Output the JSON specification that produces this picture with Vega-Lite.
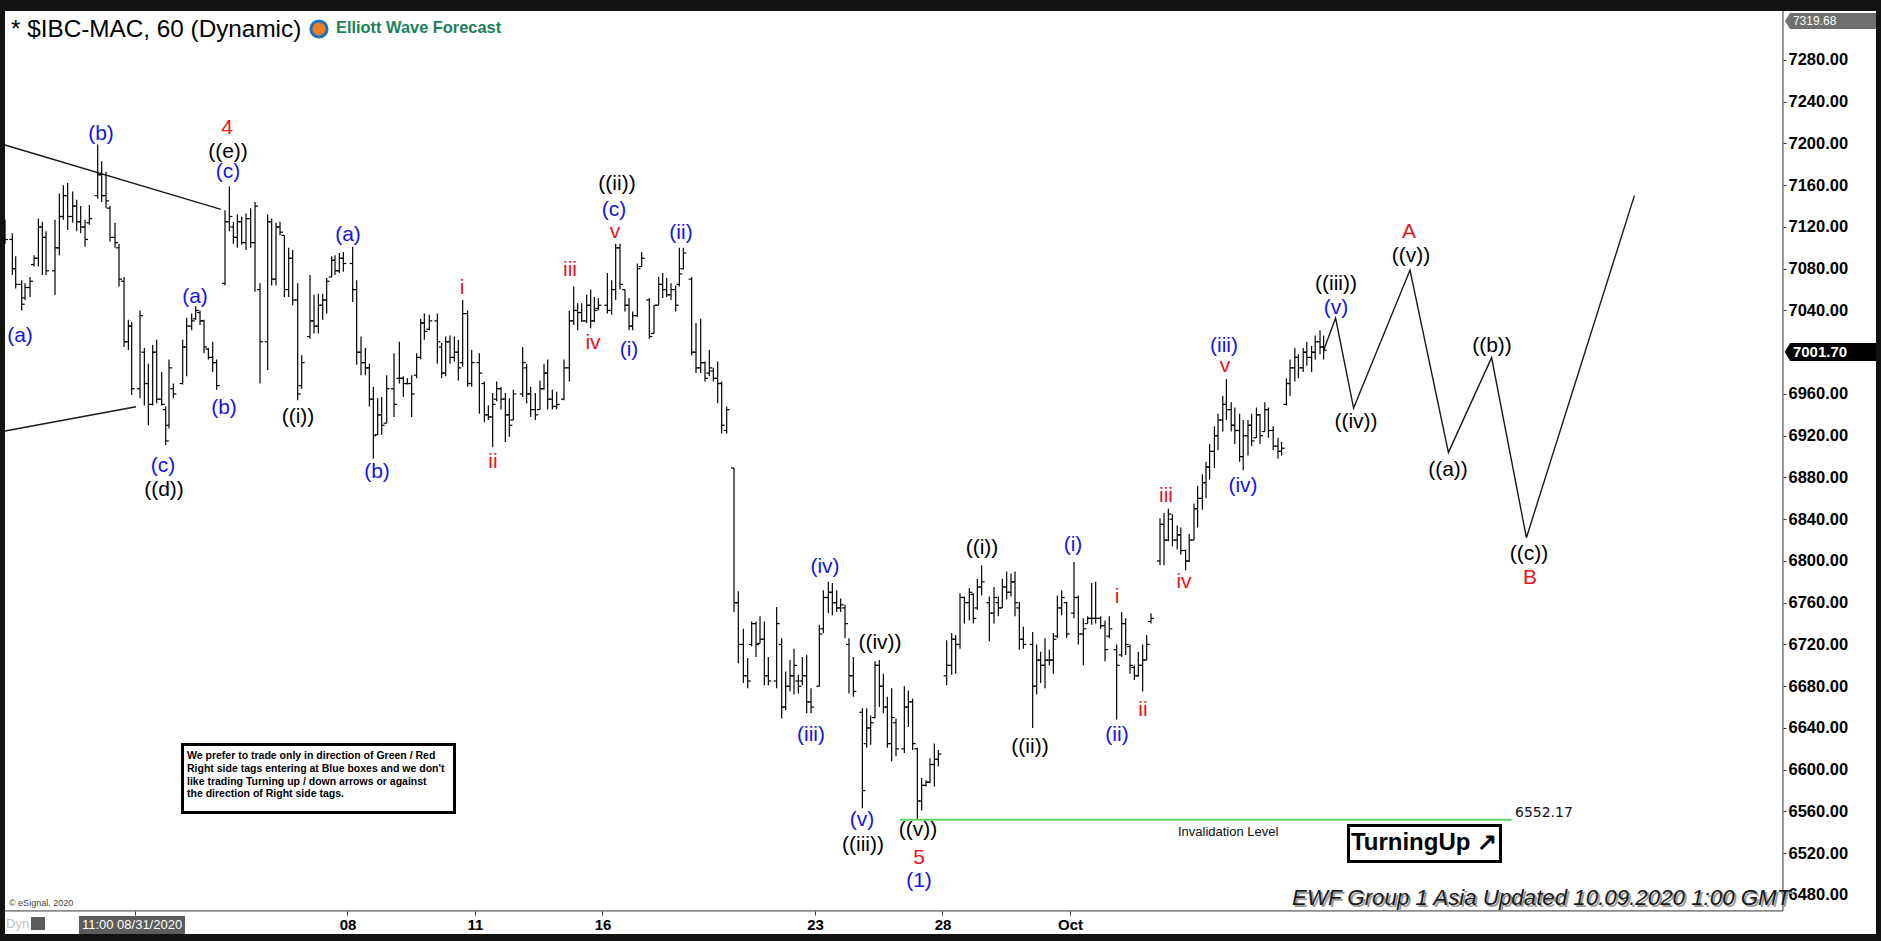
{
"$schema":"https://vega.github.io/schema/vega-lite/v6.json",
"width":1871,"height":923,
"autosize":{"type":"none"},
"padding":{"left":5,"top":11,"right":5,"bottom":7},
"background":"#121212",
"config":{"view":{"fill":"#ffffff","stroke":null},"text":{"font":"Liberation Sans"}},
"datasets":{
"ax":[{"t":-3.06,"t2":38.776,"p":6464.7,"p2":6464.7},{"t":38.776,"t2":38.776,"p":7326.9,"p2":6464.7}],
"lines":[
{"g":"u","i":0,"t":-3.059,"p":7198.5},{"g":"u","i":1,"t":2.024,"p":7136.9},
{"g":"l","i":0,"t":-3.059,"p":6924.5},{"g":"l","i":1,"t":0.024,"p":6947.8},
{"g":"proj","i":0,"t":27.967,"p":7001.7},{"g":"proj","i":1,"t":28.249,"p":7032.7},{"g":"proj","i":2,"t":28.673,"p":6946.5},{"g":"proj","i":3,"t":30.0,"p":7078.7},{"g":"proj","i":4,"t":30.904,"p":6904.0},{"g":"proj","i":5,"t":31.92,"p":6994.8},{"g":"proj","i":6,"t":32.739,"p":6822.3},{"g":"proj","i":7,"t":35.28,"p":7150.0}
],
"bars":[
{"t":-3.058,"h":7127,"l":7104,"o":7124,"c":7108},
{"t":-2.886,"h":7114,"l":7074,"o":7108,"c":7080},
{"t":-2.807,"h":7092,"l":7061,"o":7080,"c":7065},
{"t":-2.666,"h":7069,"l":7040,"o":7065,"c":7046},
{"t":-2.588,"h":7066,"l":7050,"o":7052,"c":7062},
{"t":-2.47,"h":7072,"l":7053,"o":7062,"c":7068},
{"t":-2.376,"h":7093,"l":7082,"o":7084,"c":7090},
{"t":-2.274,"h":7128,"l":7082,"o":7090,"c":7120},
{"t":-2.18,"h":7125,"l":7074,"o":7120,"c":7110},
{"t":-2.094,"h":7116,"l":7074,"o":7110,"c":7078},
{"t":-1.882,"h":7127,"l":7055,"o":7078,"c":7100},
{"t":-1.78,"h":7152,"l":7093,"o":7100,"c":7130},
{"t":-1.686,"h":7160,"l":7127,"o":7130,"c":7150},
{"t":-1.584,"h":7162,"l":7117,"o":7150,"c":7130},
{"t":-1.466,"h":7154,"l":7124,"o":7130,"c":7140},
{"t":-1.372,"h":7146,"l":7116,"o":7140,"c":7125},
{"t":-1.278,"h":7140,"l":7114,"o":7125,"c":7120},
{"t":-1.176,"h":7127,"l":7101,"o":7120,"c":7108},
{"t":-1.074,"h":7141,"l":7122,"o":7124,"c":7128},
{"t":-0.878,"h":7199,"l":7147,"o":7150,"c":7170},
{"t":-0.784,"h":7183,"l":7144,"o":7170,"c":7150},
{"t":-0.682,"h":7173,"l":7138,"o":7150,"c":7145},
{"t":-0.588,"h":7140,"l":7106,"o":7138,"c":7110},
{"t":-0.47,"h":7124,"l":7100,"o":7110,"c":7105},
{"t":-0.376,"h":7104,"l":7063,"o":7100,"c":7070},
{"t":-0.258,"h":7072,"l":7005,"o":7068,"c":7010},
{"t":-0.156,"h":7031,"l":7002,"o":7010,"c":7025},
{"t":-0.078,"h":7029,"l":6959,"o":7025,"c":6965},
{"t":0.118,"h":7040,"l":6956,"o":6965,"c":7035},
{"t":0.22,"h":7004,"l":6949,"o":7000,"c":6970},
{"t":0.314,"h":6989,"l":6930,"o":6970,"c":6950},
{"t":0.416,"h":7007,"l":6949,"o":6950,"c":7000},
{"t":0.51,"h":7012,"l":6951,"o":7000,"c":6955},
{"t":0.628,"h":6981,"l":6949,"o":6955,"c":6950},
{"t":0.722,"h":6948,"l":6911,"o":6945,"c":6915},
{"t":0.8,"h":6993,"l":6927,"o":6930,"c":6985},
{"t":0.902,"h":6970,"l":6956,"o":6965,"c":6960},
{"t":1.122,"h":7012,"l":6969,"o":6970,"c":7005},
{"t":1.216,"h":7033,"l":6977,"o":7005,"c":7025},
{"t":1.334,"h":7037,"l":7021,"o":7025,"c":7030},
{"t":1.428,"h":7044,"l":7031,"o":7032,"c":7040},
{"t":1.53,"h":7040,"l":7026,"o":7038,"c":7030},
{"t":1.624,"h":7031,"l":6999,"o":7030,"c":7005},
{"t":1.726,"h":7004,"l":6993,"o":7003,"c":6995},
{"t":1.828,"h":7010,"l":6981,"o":6995,"c":6990},
{"t":1.922,"h":6993,"l":6964,"o":6990,"c":6968},
{"t":2.118,"h":7136,"l":7064,"o":7066,"c":7125},
{"t":2.22,"h":7159,"l":7116,"o":7125,"c":7130},
{"t":2.314,"h":7125,"l":7104,"o":7120,"c":7110},
{"t":2.408,"h":7132,"l":7100,"o":7110,"c":7125},
{"t":2.51,"h":7130,"l":7103,"o":7125,"c":7105},
{"t":2.612,"h":7133,"l":7098,"o":7105,"c":7128},
{"t":2.722,"h":7138,"l":7100,"o":7128,"c":7105},
{"t":2.824,"h":7144,"l":7058,"o":7105,"c":7140},
{"t":2.942,"h":7066,"l":6970,"o":7060,"c":7010},
{"t":3.122,"h":7132,"l":6983,"o":7010,"c":7125},
{"t":3.216,"h":7128,"l":7064,"o":7125,"c":7070},
{"t":3.318,"h":7124,"l":7064,"o":7070,"c":7120},
{"t":3.412,"h":7125,"l":7112,"o":7120,"c":7115},
{"t":3.514,"h":7112,"l":7053,"o":7112,"c":7060},
{"t":3.616,"h":7100,"l":7053,"o":7060,"c":7090},
{"t":3.71,"h":7098,"l":7045,"o":7090,"c":7050},
{"t":3.828,"h":7066,"l":6954,"o":7050,"c":6960},
{"t":3.922,"h":6997,"l":6965,"o":6968,"c":6990},
{"t":4.118,"h":7074,"l":7013,"o":7015,"c":7030},
{"t":4.212,"h":7055,"l":7018,"o":7030,"c":7025},
{"t":4.314,"h":7056,"l":7018,"o":7025,"c":7045},
{"t":4.416,"h":7056,"l":7031,"o":7045,"c":7050},
{"t":4.51,"h":7071,"l":7037,"o":7050,"c":7068},
{"t":4.628,"h":7092,"l":7072,"o":7072,"c":7088},
{"t":4.706,"h":7093,"l":7074,"o":7088,"c":7078},
{"t":4.808,"h":7095,"l":7076,"o":7078,"c":7090},
{"t":4.902,"h":7096,"l":7077,"o":7090,"c":7085},
{"t":5.122,"h":7101,"l":7048,"o":7085,"c":7060},
{"t":5.216,"h":7069,"l":6988,"o":7060,"c":7000},
{"t":5.318,"h":7015,"l":6978,"o":7000,"c":6990},
{"t":5.42,"h":7004,"l":6978,"o":6990,"c":6985},
{"t":5.514,"h":6989,"l":6948,"o":6985,"c":6955},
{"t":5.608,"h":6967,"l":6898,"o":6955,"c":6920},
{"t":5.71,"h":6956,"l":6921,"o":6921,"c":6940},
{"t":5.804,"h":6957,"l":6921,"o":6940,"c":6930},
{"t":5.922,"h":6978,"l":6932,"o":6932,"c":6965},
{"t":6.094,"h":6999,"l":6938,"o":6965,"c":6950},
{"t":6.22,"h":7010,"l":6970,"o":6975,"c":6975},
{"t":6.314,"h":6977,"l":6957,"o":6975,"c":6970},
{"t":6.408,"h":6975,"l":6969,"o":6970,"c":6970},
{"t":6.51,"h":6978,"l":6938,"o":6970,"c":6960},
{"t":6.627,"h":6999,"l":6975,"o":6978,"c":6995},
{"t":6.722,"h":7032,"l":6993,"o":6995,"c":7028},
{"t":6.808,"h":7037,"l":7012,"o":7028,"c":7020},
{"t":6.925,"h":7036,"l":7021,"o":7022,"c":7030},
{"t":7.114,"h":7037,"l":6989,"o":7030,"c":7010},
{"t":7.216,"h":7009,"l":6975,"o":7005,"c":6980},
{"t":7.31,"h":7015,"l":6977,"o":6980,"c":7010},
{"t":7.412,"h":7016,"l":6989,"o":7010,"c":6995},
{"t":7.514,"h":7015,"l":6991,"o":6995,"c":7000},
{"t":7.608,"h":7012,"l":6973,"o":7000,"c":6985},
{"t":7.71,"h":7050,"l":6986,"o":6990,"c":7037},
{"t":7.827,"h":7040,"l":6967,"o":7037,"c":6970},
{"t":7.922,"h":7002,"l":6967,"o":6970,"c":6990},
{"t":8.102,"h":6999,"l":6941,"o":6990,"c":6980},
{"t":8.22,"h":6972,"l":6933,"o":6970,"c":6940},
{"t":8.314,"h":6949,"l":6935,"o":6940,"c":6938},
{"t":8.416,"h":6961,"l":6909,"o":6938,"c":6950},
{"t":8.51,"h":6972,"l":6953,"o":6955,"c":6965},
{"t":8.612,"h":6967,"l":6945,"o":6965,"c":6955},
{"t":8.714,"h":6961,"l":6914,"o":6955,"c":6940},
{"t":8.808,"h":6956,"l":6919,"o":6940,"c":6930},
{"t":8.902,"h":6964,"l":6935,"o":6935,"c":6960},
{"t":9.122,"h":7005,"l":6957,"o":6960,"c":6990},
{"t":9.216,"h":6989,"l":6951,"o":6985,"c":6960},
{"t":9.31,"h":6967,"l":6938,"o":6960,"c":6945},
{"t":9.42,"h":6961,"l":6935,"o":6945,"c":6940},
{"t":9.529,"h":6973,"l":6945,"o":6945,"c":6965},
{"t":9.624,"h":6989,"l":6964,"o":6965,"c":6980},
{"t":9.71,"h":6993,"l":6945,"o":6980,"c":6955},
{"t":9.82,"h":6964,"l":6945,"o":6955,"c":6948},
{"t":9.922,"h":6962,"l":6945,"o":6948,"c":6950},
{"t":10.094,"h":6993,"l":6954,"o":6955,"c":6985},
{"t":10.22,"h":7040,"l":6972,"o":6985,"c":7030},
{"t":10.322,"h":7063,"l":7026,"o":7030,"c":7040},
{"t":10.416,"h":7047,"l":7021,"o":7040,"c":7038},
{"t":10.51,"h":7047,"l":7029,"o":7038,"c":7030},
{"t":10.627,"h":7055,"l":7028,"o":7030,"c":7045},
{"t":10.722,"h":7060,"l":7023,"o":7045,"c":7030},
{"t":10.808,"h":7053,"l":7029,"o":7030,"c":7040},
{"t":10.902,"h":7052,"l":7040,"o":7042,"c":7045},
{"t":11.114,"h":7076,"l":7037,"o":7045,"c":7040},
{"t":11.216,"h":7069,"l":7036,"o":7040,"c":7060},
{"t":11.31,"h":7104,"l":7050,"o":7060,"c":7100},
{"t":11.412,"h":7104,"l":7060,"o":7100,"c":7065},
{"t":11.529,"h":7060,"l":7039,"o":7060,"c":7045},
{"t":11.624,"h":7052,"l":7021,"o":7045,"c":7025},
{"t":11.71,"h":7039,"l":7021,"o":7025,"c":7035},
{"t":11.82,"h":7085,"l":7034,"o":7035,"c":7080},
{"t":11.922,"h":7096,"l":7082,"o":7082,"c":7090},
{"t":12.102,"h":7052,"l":7013,"o":7050,"c":7015},
{"t":12.212,"h":7045,"l":7018,"o":7018,"c":7045},
{"t":12.322,"h":7072,"l":7045,"o":7045,"c":7065},
{"t":12.416,"h":7076,"l":7052,"o":7065,"c":7060},
{"t":12.51,"h":7071,"l":7053,"o":7060,"c":7055},
{"t":12.612,"h":7066,"l":7050,"o":7055,"c":7060},
{"t":12.722,"h":7064,"l":7039,"o":7060,"c":7045},
{"t":12.808,"h":7100,"l":7063,"o":7065,"c":7075},
{"t":12.902,"h":7100,"l":7079,"o":7080,"c":7095},
{"t":13.098,"h":7072,"l":6997,"o":7070,"c":7000},
{"t":13.2,"h":7028,"l":6980,"o":7000,"c":6985},
{"t":13.31,"h":7032,"l":6980,"o":6985,"c":6990},
{"t":13.412,"h":6991,"l":6972,"o":6990,"c":6975},
{"t":13.514,"h":7002,"l":6977,"o":6980,"c":6985},
{"t":13.608,"h":6985,"l":6972,"o":6982,"c":6975},
{"t":13.71,"h":6991,"l":6951,"o":6975,"c":6970},
{"t":13.804,"h":6972,"l":6922,"o":6970,"c":6930},
{"t":13.922,"h":6948,"l":6922,"o":6925,"c":6945},
{"t":14.094,"h":6889,"l":6751,"o":6889,"c":6760},
{"t":14.196,"h":6771,"l":6702,"o":6760,"c":6720},
{"t":14.314,"h":6735,"l":6683,"o":6720,"c":6690},
{"t":14.416,"h":6707,"l":6678,"o":6690,"c":6685},
{"t":14.51,"h":6742,"l":6718,"o":6720,"c":6740},
{"t":14.612,"h":6742,"l":6708,"o":6740,"c":6720},
{"t":14.706,"h":6747,"l":6721,"o":6721,"c":6725},
{"t":14.808,"h":6742,"l":6681,"o":6725,"c":6690},
{"t":14.902,"h":6708,"l":6681,"o":6690,"c":6685},
{"t":15.098,"h":6756,"l":6678,"o":6685,"c":6740},
{"t":15.216,"h":6726,"l":6649,"o":6720,"c":6660},
{"t":15.31,"h":6694,"l":6657,"o":6660,"c":6680},
{"t":15.412,"h":6705,"l":6675,"o":6680,"c":6690},
{"t":15.506,"h":6716,"l":6672,"o":6690,"c":6700},
{"t":15.608,"h":6691,"l":6673,"o":6685,"c":6680},
{"t":15.702,"h":6708,"l":6681,"o":6685,"c":6690},
{"t":15.804,"h":6710,"l":6654,"o":6690,"c":6665},
{"t":15.906,"h":6678,"l":6654,"o":6665,"c":6660},
{"t":16.102,"h":6739,"l":6680,"o":6680,"c":6730},
{"t":16.196,"h":6772,"l":6731,"o":6735,"c":6765},
{"t":16.314,"h":6780,"l":6750,"o":6765,"c":6770},
{"t":16.408,"h":6779,"l":6748,"o":6770,"c":6760},
{"t":16.51,"h":6772,"l":6751,"o":6760,"c":6755},
{"t":16.604,"h":6764,"l":6751,"o":6755,"c":6758},
{"t":16.706,"h":6758,"l":6726,"o":6755,"c":6740},
{"t":16.8,"h":6726,"l":6673,"o":6720,"c":6690},
{"t":16.902,"h":6708,"l":6670,"o":6690,"c":6675},
{"t":17.114,"h":6659,"l":6563,"o":6655,"c":6580},
{"t":17.216,"h":6659,"l":6621,"o":6625,"c":6640},
{"t":17.31,"h":6652,"l":6624,"o":6640,"c":6645},
{"t":17.412,"h":6704,"l":6649,"o":6650,"c":6700},
{"t":17.514,"h":6705,"l":6660,"o":6700,"c":6680},
{"t":17.608,"h":6692,"l":6654,"o":6680,"c":6660},
{"t":17.702,"h":6670,"l":6621,"o":6660,"c":6625},
{"t":17.804,"h":6678,"l":6608,"o":6625,"c":6650},
{"t":17.906,"h":6649,"l":6613,"o":6645,"c":6620},
{"t":18.102,"h":6680,"l":6616,"o":6620,"c":6660},
{"t":18.196,"h":6676,"l":6641,"o":6660,"c":6665},
{"t":18.298,"h":6668,"l":6619,"o":6665,"c":6625},
{"t":18.408,"h":6621,"l":6553,"o":6620,"c":6570},
{"t":18.51,"h":6592,"l":6561,"o":6570,"c":6585},
{"t":18.612,"h":6590,"l":6584,"o":6585,"c":6588},
{"t":18.706,"h":6611,"l":6587,"o":6588,"c":6605},
{"t":18.808,"h":6625,"l":6584,"o":6605,"c":6610},
{"t":18.902,"h":6619,"l":6603,"o":6610,"c":6615},
{"t":19.098,"h":6724,"l":6681,"o":6690,"c":6700},
{"t":19.216,"h":6731,"l":6691,"o":6700,"c":6725},
{"t":19.31,"h":6729,"l":6692,"o":6725,"c":6720},
{"t":19.412,"h":6769,"l":6716,"o":6720,"c":6765},
{"t":19.514,"h":6766,"l":6740,"o":6765,"c":6760},
{"t":19.631,"h":6774,"l":6743,"o":6760,"c":6770},
{"t":19.725,"h":6769,"l":6740,"o":6768,"c":6745},
{"t":19.82,"h":6783,"l":6753,"o":6755,"c":6775},
{"t":19.921,"h":6796,"l":6767,"o":6775,"c":6780},
{"t":20.102,"h":6766,"l":6723,"o":6760,"c":6750},
{"t":20.212,"h":6775,"l":6740,"o":6750,"c":6765},
{"t":20.314,"h":6766,"l":6747,"o":6760,"c":6755},
{"t":20.408,"h":6783,"l":6755,"o":6755,"c":6775},
{"t":20.51,"h":6790,"l":6763,"o":6775,"c":6770},
{"t":20.612,"h":6788,"l":6766,"o":6770,"c":6780},
{"t":20.706,"h":6790,"l":6747,"o":6780,"c":6760},
{"t":20.808,"h":6761,"l":6715,"o":6755,"c":6725},
{"t":20.902,"h":6737,"l":6716,"o":6725,"c":6720},
{"t":21.122,"h":6732,"l":6640,"o":6720,"c":6680},
{"t":21.216,"h":6720,"l":6672,"o":6680,"c":6705},
{"t":21.31,"h":6713,"l":6683,"o":6705,"c":6700},
{"t":21.412,"h":6726,"l":6678,"o":6700,"c":6705},
{"t":21.514,"h":6715,"l":6700,"o":6705,"c":6705},
{"t":21.608,"h":6731,"l":6692,"o":6705,"c":6725},
{"t":21.702,"h":6767,"l":6726,"o":6728,"c":6755},
{"t":21.804,"h":6772,"l":6748,"o":6755,"c":6765},
{"t":21.922,"h":6761,"l":6726,"o":6760,"c":6730},
{"t":22.094,"h":6799,"l":6745,"o":6750,"c":6765},
{"t":22.196,"h":6767,"l":6720,"o":6765,"c":6730},
{"t":22.314,"h":6745,"l":6700,"o":6730,"c":6735},
{"t":22.416,"h":6747,"l":6740,"o":6740,"c":6745},
{"t":22.51,"h":6779,"l":6739,"o":6745,"c":6745},
{"t":22.604,"h":6780,"l":6740,"o":6745,"c":6745},
{"t":22.722,"h":6747,"l":6735,"o":6745,"c":6738},
{"t":22.824,"h":6743,"l":6704,"o":6738,"c":6715},
{"t":22.925,"h":6747,"l":6726,"o":6728,"c":6735},
{"t":23.098,"h":6720,"l":6648,"o":6715,"c":6700},
{"t":23.216,"h":6751,"l":6708,"o":6710,"c":6740},
{"t":23.31,"h":6745,"l":6710,"o":6740,"c":6720},
{"t":23.412,"h":6720,"l":6692,"o":6718,"c":6700},
{"t":23.514,"h":6700,"l":6686,"o":6698,"c":6690},
{"t":23.608,"h":6713,"l":6689,"o":6690,"c":6700},
{"t":23.71,"h":6720,"l":6675,"o":6700,"c":6705},
{"t":23.804,"h":6729,"l":6705,"o":6705,"c":6720},
{"t":23.906,"h":6750,"l":6740,"o":6742,"c":6745},
{"t":24.118,"h":6841,"l":6796,"o":6800,"c":6835},
{"t":24.212,"h":6846,"l":6796,"o":6835,"c":6820},
{"t":24.314,"h":6850,"l":6819,"o":6820,"c":6845},
{"t":24.41,"h":6845,"l":6814,"o":6840,"c":6820},
{"t":24.523,"h":6834,"l":6811,"o":6820,"c":6825},
{"t":24.607,"h":6832,"l":6806,"o":6825,"c":6810},
{"t":24.72,"h":6811,"l":6791,"o":6810,"c":6800},
{"t":24.805,"h":6826,"l":6799,"o":6800,"c":6820},
{"t":24.918,"h":6855,"l":6820,"o":6820,"c":6850},
{"t":25.003,"h":6872,"l":6832,"o":6850,"c":6860},
{"t":25.115,"h":6883,"l":6849,"o":6860,"c":6875},
{"t":25.2,"h":6895,"l":6860,"o":6875,"c":6890},
{"t":25.285,"h":6912,"l":6878,"o":6890,"c":6905},
{"t":25.398,"h":6929,"l":6889,"o":6905,"c":6920},
{"t":25.483,"h":6941,"l":6906,"o":6920,"c":6935},
{"t":25.595,"h":6958,"l":6924,"o":6935,"c":6950},
{"t":25.68,"h":6974,"l":6935,"o":6950,"c":6945},
{"t":25.793,"h":6952,"l":6924,"o":6945,"c":6930},
{"t":25.878,"h":6947,"l":6912,"o":6930,"c":6925},
{"t":25.991,"h":6941,"l":6895,"o":6925,"c":6900},
{"t":26.075,"h":6935,"l":6887,"o":6900,"c":6920},
{"t":26.188,"h":6935,"l":6901,"o":6920,"c":6930},
{"t":26.273,"h":6941,"l":6910,"o":6930,"c":6915},
{"t":26.386,"h":6947,"l":6918,"o":6918,"c":6940},
{"t":26.471,"h":6941,"l":6912,"o":6940,"c":6920},
{"t":26.584,"h":6952,"l":6924,"o":6924,"c":6945},
{"t":26.668,"h":6947,"l":6918,"o":6945,"c":6925},
{"t":26.781,"h":6929,"l":6906,"o":6925,"c":6910},
{"t":26.894,"h":6918,"l":6898,"o":6910,"c":6905},
{"t":26.979,"h":6914,"l":6901,"o":6905,"c":6908},
{"t":27.092,"h":6975,"l":6949,"o":6950,"c":6970},
{"t":27.177,"h":6993,"l":6958,"o":6970,"c":6985},
{"t":27.29,"h":7004,"l":6972,"o":6985,"c":6995},
{"t":27.374,"h":6998,"l":6975,"o":6995,"c":6985},
{"t":27.487,"h":7004,"l":6981,"o":6985,"c":7000},
{"t":27.572,"h":7010,"l":6987,"o":7000,"c":6995},
{"t":27.685,"h":7006,"l":6981,"o":6995,"c":7000},
{"t":27.77,"h":7016,"l":6993,"o":7000,"c":7010},
{"t":27.883,"h":7021,"l":6998,"o":7010,"c":7005},
{"t":27.967,"h":7016,"l":6993,"o":7005,"c":7002}
],
"waves":[
{"t":-2.706,"p":7015.5,"s":"(a)","k":"b"},
{"t":-0.8,"p":7209.1,"s":"(b)","k":"b"},
{"t":2.165,"p":7214.8,"s":"4","k":"r"},
{"t":2.188,"p":7191.8,"s":"((e))","k":"k"},
{"t":2.188,"p":7172.7,"s":"(c)","k":"b"},
{"t":0.659,"p":6891.0,"s":"(c)","k":"b"},
{"t":0.682,"p":6868.0,"s":"((d))","k":"k"},
{"t":1.412,"p":7052.9,"s":"(a)","k":"b"},
{"t":2.094,"p":6946.5,"s":"(b)","k":"b"},
{"t":3.835,"p":6937.9,"s":"((i))","k":"k"},
{"t":5.012,"p":7112.3,"s":"(a)","k":"b"},
{"t":5.694,"p":6885.2,"s":"(b)","k":"b"},
{"t":7.694,"p":7061.5,"s":"i","k":"r"},
{"t":8.424,"p":6894.8,"s":"ii","k":"r"},
{"t":10.235,"p":7078.8,"s":"iii","k":"r"},
{"t":10.776,"p":7008.8,"s":"iv","k":"r"},
{"t":11.294,"p":7115.2,"s":"v","k":"r"},
{"t":11.271,"p":7136.2,"s":"(c)","k":"b"},
{"t":11.341,"p":7161.2,"s":"((ii))","k":"k"},
{"t":11.624,"p":7002.1,"s":"(i)","k":"b"},
{"t":12.847,"p":7114.2,"s":"(ii)","k":"b"},
{"t":16.235,"p":6794.2,"s":"(iv)","k":"b"},
{"t":15.906,"p":6633.3,"s":"(iii)","k":"b"},
{"t":17.529,"p":6721.4,"s":"((iv))","k":"k"},
{"t":17.106,"p":6551.8,"s":"(v)","k":"b"},
{"t":17.129,"p":6527.9,"s":"((iii))","k":"k"},
{"t":18.424,"p":6542.2,"s":"((v))","k":"k"},
{"t":18.447,"p":6515.4,"s":"5","k":"r"},
{"t":18.447,"p":6493.4,"s":"(1)","k":"b"},
{"t":19.929,"p":6812.4,"s":"((i))","k":"k"},
{"t":21.059,"p":6621.8,"s":"((ii))","k":"k"},
{"t":22.071,"p":6815.3,"s":"(i)","k":"b"},
{"t":23.106,"p":6765.5,"s":"i","k":"r"},
{"t":23.106,"p":6633.3,"s":"(ii)","k":"b"},
{"t":23.718,"p":6657.2,"s":"ii","k":"r"},
{"t":24.259,"p":6862.2,"s":"iii","k":"r"},
{"t":24.682,"p":6779.8,"s":"iv","k":"r"},
{"t":25.624,"p":7005.9,"s":"(iii)","k":"b"},
{"t":25.647,"p":6986.8,"s":"v","k":"r"},
{"t":26.071,"p":6871.8,"s":"(iv)","k":"b"},
{"t":28.259,"p":7065.3,"s":"((iii))","k":"k"},
{"t":28.259,"p":7042.4,"s":"(v)","k":"b"},
{"t":28.729,"p":6933.1,"s":"((iv))","k":"k"},
{"t":29.976,"p":7115.2,"s":"A","k":"r"},
{"t":30.024,"p":7092.2,"s":"((v))","k":"k"},
{"t":30.894,"p":6887.1,"s":"((a))","k":"k"},
{"t":31.929,"p":7005.9,"s":"((b))","k":"k"},
{"t":32.8,"p":6806.7,"s":"((c))","k":"k"},
{"t":32.824,"p":6783.7,"s":"B","k":"r"}
]
},
"layer":[
{"data":{"name":"ax"},"mark":{"type":"rule","color":"#333333","strokeWidth":1},
 "encoding":{
  "x":{"field":"t","type":"quantitative","scale":{"domain":[-3.0588,40.9647],"nice":false,"zero":false},
   "axis":{"title":null,"orient":"bottom","offset":-23,"values":[0,5,8,11,16,19,22],"labelExpr":"datum.value==5?'08':datum.value==8?'11':datum.value==11?'16':datum.value==16?'23':datum.value==19?'28':datum.value==22?'Oct':''","domain":false,"grid":false,"ticks":true,"tickSize":4,"tickColor":"#333333","labelFont":"Liberation Sans","labelFontWeight":"bold","labelFontSize":15,"labelColor":"#000000","labelPadding":2,"labelOverlap":false,"labelBound":false,"labelFlush":false}},
  "x2":{"field":"t2"},
  "y":{"field":"p","type":"quantitative","scale":{"domain":[6442.6,7326.9],"nice":false,"zero":false},
   "axis":{"title":null,"orient":"right","offset":-93,"values":[6480,6520,6560,6600,6640,6680,6720,6760,6800,6840,6880,6920,6960,7040,7080,7120,7160,7200,7240,7280],"format":".2f","domain":false,"grid":false,"tickSize":3,"tickColor":"#333333","labelFont":"Liberation Sans","labelFontWeight":"bold","labelFontSize":16.5,"labelColor":"#000000","labelPadding":2,"labelOverlap":false,"labelBound":false,"labelFlush":false}},
  "y2":{"field":"p2"}}},
{"data":{"name":"lines"},"mark":{"type":"line","color":"#1a1a1a","strokeWidth":1.4},
 "encoding":{"x":{"field":"t","type":"quantitative"},"y":{"field":"p","type":"quantitative"},"detail":{"field":"g"},"order":{"field":"i"}}},
{"data":{"values":[{"t":18.0,"t2":32.39,"p":6552.17}]},"mark":{"type":"rule","color":"#5fd65f","strokeWidth":2},
 "encoding":{"x":{"field":"t","type":"quantitative"},"x2":{"field":"t2"},"y":{"field":"p","type":"quantitative"}}},
{"data":{"name":"bars"},"mark":{"type":"rule","color":"#000000","strokeWidth":1.2},
 "encoding":{"x":{"field":"t","type":"quantitative"},"y":{"field":"l","type":"quantitative"},"y2":{"field":"h"}}},
{"data":{"name":"bars"},"mark":{"type":"point","shape":"M-1,0H0","size":36,"filled":false,"color":"#000000","strokeWidth":1.2,"opacity":1},
 "encoding":{"x":{"field":"t","type":"quantitative"},"y":{"field":"o","type":"quantitative"}}},
{"data":{"name":"bars"},"mark":{"type":"point","shape":"M0,0H1","size":36,"filled":false,"color":"#000000","strokeWidth":1.2,"opacity":1},
 "encoding":{"x":{"field":"t","type":"quantitative"},"y":{"field":"c","type":"quantitative"}}},
{"data":{"name":"waves"},"mark":{"type":"text","font":"Liberation Sans","fontSize":21,"baseline":"middle","align":"center"},
 "encoding":{"x":{"field":"t","type":"quantitative"},"y":{"field":"p","type":"quantitative"},"text":{"field":"s"},
  "color":{"field":"k","type":"nominal","scale":{"domain":["b","r","k"],"range":["#1414e0","#e8141c","#000000"]},"legend":null}}},
{"data":{"values":[{"t":1.118,"t2":7.518,"p":6624.2,"p2":6559.0},{"t":28.553,"t2":32.129,"p":6546.6,"p2":6512.1}]},
 "mark":{"type":"rect","fill":"#ffffff","stroke":"#000000","strokeWidth":3},
 "encoding":{"x":{"field":"t","type":"quantitative"},"x2":{"field":"t2"},"y":{"field":"p","type":"quantitative"},"y2":{"field":"p2"}}},
{"data":{"values":[
 {"t":1.224,"p":6613.2,"s":"We prefer to trade only in direction of Green / Red"},
 {"t":1.224,"p":6600.7,"s":"Right side tags entering at Blue boxes and we don't"},
 {"t":1.224,"p":6588.3,"s":"like trading Turning up / down arrows or against"},
 {"t":1.224,"p":6576.8,"s":"the direction of Right side tags."}]},
 "mark":{"type":"text","font":"Liberation Sans","fontSize":10.5,"fontWeight":"bold","align":"left","baseline":"middle","color":"#000000"},
 "encoding":{"x":{"field":"t","type":"quantitative"},"y":{"field":"p","type":"quantitative"},"text":{"field":"s"}}},
{"data":{"values":[{"t":30.329,"p":6529.8,"s":"TurningUp ↗"}]},
 "mark":{"type":"text","font":"Liberation Sans","fontSize":24,"fontWeight":"bold","align":"center","baseline":"middle","color":"#000000"},
 "encoding":{"x":{"field":"t","type":"quantitative"},"y":{"field":"p","type":"quantitative"},"text":{"field":"s"}}},
{"data":{"values":[{"t":24.54,"p":6540.4,"s":"Invalidation Level"}]},
 "mark":{"type":"text","font":"Liberation Sans","fontSize":13,"align":"left","baseline":"middle","color":"#111111"},
 "encoding":{"x":{"field":"t","type":"quantitative"},"y":{"field":"p","type":"quantitative"},"text":{"field":"s"}}},
{"data":{"values":[{"t":32.47,"p":6558.6,"s":"6552.17"}]},
 "mark":{"type":"text","font":"DejaVu Sans","fontSize":14,"align":"left","baseline":"middle","color":"#111111"},
 "encoding":{"x":{"field":"t","type":"quantitative"},"y":{"field":"p","type":"quantitative"},"text":{"field":"s"}}},
{"data":{"values":[{"t":-1.318,"t2":1.176,"p":6442.6,"p2":6459.9},{"t":-2.447,"t2":-2.118,"p":6446.4,"p2":6458.9}]},
 "mark":{"type":"rect","fill":"#5c5c5c"},
 "encoding":{"x":{"field":"t","type":"quantitative"},"x2":{"field":"t2"},"y":{"field":"p","type":"quantitative"},"y2":{"field":"p2"}}},
{"data":{"values":[{"t":-0.07,"p":6451.0,"s":"11:00 08/31/2020"}]},
 "mark":{"type":"text","font":"Liberation Sans","fontSize":13,"align":"center","baseline":"middle","color":"#ffffff"},
 "encoding":{"x":{"field":"t","type":"quantitative"},"y":{"field":"p","type":"quantitative"},"text":{"field":"s"}}},
{"data":{"values":[{"t":-3.035,"p":6452.2,"s":"Dyn"}]},
 "mark":{"type":"text","font":"Liberation Sans","fontSize":13,"align":"left","baseline":"middle","color":"#c4c4c4"},
 "encoding":{"x":{"field":"t","type":"quantitative"},"y":{"field":"p","type":"quantitative"},"text":{"field":"s"}}},
{"data":{"values":[{"t":-2.965,"p":6472.4,"s":"© eSignal, 2020"}]},
 "mark":{"type":"text","font":"Liberation Sans","fontSize":9,"align":"left","baseline":"middle","color":"#444444"},
 "encoding":{"x":{"field":"t","type":"quantitative"},"y":{"field":"p","type":"quantitative"},"text":{"field":"s"}}},
{"data":{"values":[{"t":27.224,"p":6477.1,"s":"EWF Group 1 Asia Updated 10.09.2020 1:00 GMT"}]},
 "mark":{"type":"text","font":"Liberation Sans","fontSize":22.3,"fontStyle":"italic","align":"left","baseline":"middle","color":"#9a9a9a","dx":2,"dy":2},
 "encoding":{"x":{"field":"t","type":"quantitative"},"y":{"field":"p","type":"quantitative"},"text":{"field":"s"}}},
{"data":{"values":[{"t":27.224,"p":6477.1,"s":"EWF Group 1 Asia Updated 10.09.2020 1:00 GMT"}]},
 "mark":{"type":"text","font":"Liberation Sans","fontSize":22.3,"fontStyle":"italic","align":"left","baseline":"middle","color":"#1a1a1a"},
 "encoding":{"x":{"field":"t","type":"quantitative"},"y":{"field":"p","type":"quantitative"},"text":{"field":"s"}}},
{"data":{"values":[{"t":-2.918,"p":7308.7,"s":"* $IBC-MAC, 60 (Dynamic)"}]},
 "mark":{"type":"text","font":"Liberation Sans","fontSize":24.3,"align":"left","baseline":"middle","color":"#000000"},
 "encoding":{"x":{"field":"t","type":"quantitative"},"y":{"field":"p","type":"quantitative"},"text":{"field":"s"}}},
{"data":{"values":[{"t":4.329,"p":7309.7}]},
 "mark":{"type":"point","shape":"circle","size":260,"filled":true,"fill":"#ef7d22","stroke":"#1e6fc0","strokeWidth":3,"opacity":1},
 "encoding":{"x":{"field":"t","type":"quantitative"},"y":{"field":"p","type":"quantitative"}}},
{"data":{"values":[{"t":4.729,"p":7311.0,"s":"Elliott Wave Forecast"}]},
 "mark":{"type":"text","font":"Liberation Sans","fontSize":16.4,"fontWeight":"bold","align":"left","baseline":"middle","color":"#1a7f5a"},
 "encoding":{"x":{"field":"t","type":"quantitative"},"y":{"field":"p","type":"quantitative"},"text":{"field":"s"}}},
{"data":{"values":[{"t":38.94,"t2":40.965,"p":7309.7,"p2":7325.0}]},
 "mark":{"type":"rect","fill":"#6e6e6e"},
 "encoding":{"x":{"field":"t","type":"quantitative"},"x2":{"field":"t2"},"y":{"field":"p","type":"quantitative"},"y2":{"field":"p2"}}},
{"data":{"values":[{"t":38.94,"p":7317.3}]},
 "mark":{"type":"point","shape":"M-0.6,0L0,-1L0,1Z","size":256,"filled":true,"color":"#6e6e6e","opacity":1},
 "encoding":{"x":{"field":"t","type":"quantitative"},"y":{"field":"p","type":"quantitative"}}},
{"data":{"values":[{"t":39.01,"p":7317.3,"s":"7319.68"}]},
 "mark":{"type":"text","font":"Liberation Sans","fontSize":12,"align":"left","baseline":"middle","color":"#ffffff"},
 "encoding":{"x":{"field":"t","type":"quantitative"},"y":{"field":"p","type":"quantitative"},"text":{"field":"s"}}},
{"data":{"values":[{"t":38.94,"t2":40.965,"p":6991.6,"p2":7008.8}]},
 "mark":{"type":"rect","fill":"#000000"},
 "encoding":{"x":{"field":"t","type":"quantitative"},"x2":{"field":"t2"},"y":{"field":"p","type":"quantitative"},"y2":{"field":"p2"}}},
{"data":{"values":[{"t":38.94,"p":7000.2}]},
 "mark":{"type":"point","shape":"M-0.6,0L0,-1L0,1Z","size":300,"filled":true,"color":"#000000","opacity":1},
 "encoding":{"x":{"field":"t","type":"quantitative"},"y":{"field":"p","type":"quantitative"}}},
{"data":{"values":[{"t":39.01,"p":7000.2,"s":"7001.70"}]},
 "mark":{"type":"text","font":"Liberation Sans","fontSize":15,"fontWeight":"bold","align":"left","baseline":"middle","color":"#ffffff"},
 "encoding":{"x":{"field":"t","type":"quantitative"},"y":{"field":"p","type":"quantitative"},"text":{"field":"s"}}}
]
}
